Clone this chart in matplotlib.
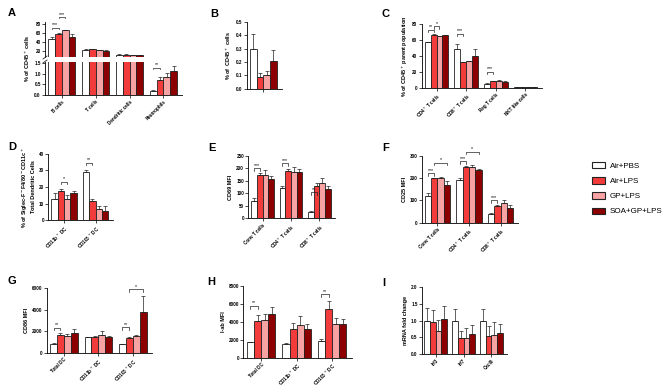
import numpy as np
import matplotlib.pyplot as plt
from matplotlib.patches import Patch

plt.rcParams['font.family'] = ['Liberation Sans', 'DejaVu Sans']

W, H = 669, 388

treatments = ['Air+PBS', 'Air+LPS', 'GP+LPS', 'SOA+GP+LPS']
colors = ['#ffffff', '#f23c3c', '#f7a3a3', '#8c0000']

# ---- data (rows = treatment, cols = group) ----
a_groups = ['B cells', 'T cells', 'Dendritic cells', 'Neutrophils']
a_mean = [[47, 23, 12, 0.2], [58, 24, 12, 0.7], [66, 22, 11, 0.85], [51, 21, 11, 1.15]]
a_err = [[5, 2, 0.5, 0.05], [2, 1, 0.5, 0.13], [1, 1, 0.4, 0.18], [7, 1.5, 0.4, 0.2]]

b_groups = ['']
b_mean = [[0.30], [0.09], [0.10], [0.21]]
b_err = [[0.11], [0.03], [0.03], [0.08]]

c_groups = ['CD4$^+$ T cells', 'CD8$^+$ T cells', 'Reg T cells', 'NKT like cells']
c_mean = [[57, 48, 5, 1], [66, 32, 8, 1.2], [65, 33, 9, 1], [66, 40, 7, 1]]
c_err = [[1, 7, 1, 0.2], [2, 0.5, 0.5, 0.2], [0.5, 0.5, 0.5, 0.2], [0.5, 9, 1, 0.2]]

d_groups = ['CD11b$^+$ DC', 'CD103$^+$ DC']
d_mean = [[13, 29], [17.5, 11.5], [13, 6.5], [16.5, 5.5]]
d_err = [[3.5, 1.5], [1, 1], [2, 2], [1, 3]]

e_groups = ['Conv T cells', 'CD4$^+$ T cells', 'CD8$^+$ T cells']
e_mean = [[70, 122, 25], [172, 188, 130], [174, 185, 140], [157, 183, 118]]
e_err = [[10, 5, 3], [8, 10, 12], [20, 20, 20], [10, 12, 12]]

f_groups = ['Conv T cells', 'CD4$^+$ T cells', 'CD8$^+$ T cells']
f_mean = [[118, 193, 40], [198, 250, 75], [198, 250, 88], [167, 235, 68]]
f_err = [[15, 7, 5], [3, 5, 5], [7, 10, 15], [20, 5, 10]]

g_groups = ['Total DC', 'CD11b$^+$ DC', 'CD103$^+$ DC']
g_mean = [[850, 1450, 800], [1650, 1450, 1350], [1550, 1700, 1550], [1900, 1500, 3800]]
g_err = [[50, 80, 50], [200, 150, 150], [250, 300, 150], [350, 100, 1500]]

h_groups = ['Total DC', 'CD11b$^+$ DC', 'CD103$^+$ DC']
h_mean = [[1700, 1550, 1850], [4100, 3150, 5400], [4200, 3600, 3700], [4850, 3200, 3800]]
h_err = [[100, 100, 250], [600, 700, 900], [700, 1000, 700], [800, 500, 500]]

i_groups = ['Irf3', 'Irf7', 'Cxcl9']
i_mean = [[0.98, 1.0, 1.0], [0.95, 0.47, 0.55], [0.70, 0.48, 0.57], [1.05, 0.60, 0.63]]
i_err = [[0.40, 0.36, 0.36], [0.38, 0.22, 0.30], [0.32, 0.30, 0.38], [0.40, 0.27, 0.28]]

fig = plt.figure(figsize=(W / 100, H / 100), dpi=100)

TICK_FS = 3.3
LAB_FS = 4.0


def make_ax(x0, y0, x1, y1):
    return fig.add_axes([x0 / W, 1 - y1 / H, (x1 - x0) / W, (y1 - y0) / H])


def style(ax, bottom=True):
    for s in ['top', 'right']:
        ax.spines[s].set_visible(False)
    ax.spines['left'].set_linewidth(0.6)
    ax.spines['bottom'].set_linewidth(0.6)
    if not bottom:
        ax.spines['bottom'].set_visible(False)
    ax.tick_params(axis='both', labelsize=TICK_FS, width=0.5, length=2, pad=1)


def draw_bars(ax, groups, mean, err, w=0.2):
    x = np.arange(len(groups))
    for k in range(4):
        pos = x + (k - 1.5) * w
        ax.bar(pos, mean[k], w, color=colors[k], edgecolor='#222222', linewidth=0.6, zorder=2)
        ax.errorbar(pos, mean[k], yerr=[np.zeros(len(groups)), err[k]], fmt='none',
                    ecolor='#222222', elinewidth=0.5, capsize=1.2, capthick=0.5, zorder=3)
    ax.set_xlim(-0.5, len(groups) - 0.45)
    return x


def bracket(ax, g, i, j, y, label, w=0.2):
    x1 = g + (i - 1.5) * w
    x2 = g + (j - 1.5) * w
    lo, hi = ax.get_ylim()
    d = 0.04 * (hi - lo)
    ax.plot([x1, x1, x2, x2], [y - d, y, y, y - d], color='#222222', lw=0.5, clip_on=False, zorder=4)
    ax.text((x1 + x2) / 2, y + 0.005 * (hi - lo), label, ha='center', va='bottom', fontsize=3.8, clip_on=False)


def xlabels(ax, x, groups):
    ax.set_xticks(x)
    ax.set_xticklabels(groups, rotation=45, ha='right', rotation_mode='anchor', fontsize=TICK_FS, fontweight='bold')


def ylab(ax, text):
    ax.set_ylabel(text, fontsize=LAB_FS, fontweight='bold', labelpad=2)


def simple_panel(rect, groups, mean, err, ylim, yticks, fmt, label, brs, show_x=True):
    ax = make_ax(*rect)
    style(ax)
    x = draw_bars(ax, groups, mean, err)
    ax.set_ylim(*ylim)
    ax.set_yticks(yticks)
    ax.set_yticklabels([fmt.format(t) for t in yticks], fontweight='bold')
    if show_x:
        xlabels(ax, x, groups)
    else:
        ax.set_xticks(x)
        ax.set_xticklabels([])
    ylab(ax, label)
    for g, i, j, y, s in brs:
        bracket(ax, g, i, j, y, s)
    return ax


# ---- A: broken axis ----
ax_top = make_ax(45, 22, 182, 57)
ax_bot = make_ax(45, 62, 182, 95)
style(ax_top, bottom=False)
style(ax_bot)
draw_bars(ax_top, a_groups, a_mean, a_err)
xa = draw_bars(ax_bot, a_groups, a_mean, a_err)
ax_top.set_ylim(6.6, 84.4)
ax_top.set_yticks([20, 40, 60, 80])
ax_top.set_yticklabels(['20', '40', '60', '80'], fontweight='bold')
ax_top.set_xticks([])
ax_bot.set_ylim(0, 1.55)
ax_bot.set_yticks([0, 0.5, 1.0, 1.5])
ax_bot.set_yticklabels(['0.0', '0.5', '1.0', '1.5'], fontweight='bold')
xlabels(ax_bot, xa, a_groups)
bracket(ax_top, 0, 0, 1, 72, '***')
bracket(ax_top, 0, 1, 2, 96, '***')
bracket(ax_bot, 3, 0, 1, 1.29, '**')
for yb in [57.5, 61.5]:
    fig.add_artist(plt.Line2D([43 / W, 47 / W], [1 - (yb + 1.5) / H, 1 - (yb - 1.5) / H],
                              color='#222222', lw=0.6))
fig.text(28 / W, 1 - 58 / H, '% of CD45$^+$ cells', rotation=90, ha='center', va='center',
         fontsize=LAB_FS, fontweight='bold')

# ---- B ----
simple_panel((246.7, 22, 281.7, 88.7), b_groups, b_mean, b_err, (0, 0.5),
             [0, 0.1, 0.2, 0.3, 0.4, 0.5], '{:.1f}', '% of  CD45$^+$ cells', [], show_x=False)

# ---- C ----
simple_panel((421.7, 24, 541.7, 87.7), c_groups, c_mean, c_err, (0, 80), [0, 20, 40, 60, 80], '{:d}',
             '% of CD45$^+$ parent population',
             [(0, 0, 1, 73, '**'), (0, 1, 2, 77, '*'), (1, 0, 1, 68, '***'), (2, 0, 1, 20, '***')])

# ---- D ----
simple_panel((48.3, 154, 113, 220), d_groups, d_mean, d_err, (0, 40), [0, 10, 20, 30, 40], '{:d}',
             '% of Siglec-F$^-$F4/80$^-$CD11c$^+$\nTotal Dendritic Cells',
             [(0, 1, 2, 23.2, '*'), (1, 0, 1, 34.7, '**')])

# ---- E ----
simple_panel((248.3, 155.7, 335, 218.3), e_groups, e_mean, e_err, (0, 250), [0, 50, 100, 150, 200, 250], '{:d}',
             'CD69 MFI',
             [(0, 0, 1, 200, '***'), (1, 0, 1, 220, '***'), (2, 0, 1, 105, '**')])

# ---- F ----
simple_panel((421.7, 155.7, 518, 222.7), f_groups, f_mean, f_err, (0, 300), [0, 100, 200, 300], '{:d}',
             'CD25 MFI',
             [(0, 0, 1, 221, '***'), (0, 1, 3, 269, '*'), (1, 0, 1, 276, '***'), (1, 1, 3, 318, '*'),
              (2, 0, 1, 102, '***')])

# ---- G ----
simple_panel((46.7, 288.3, 151.7, 353), g_groups, g_mean, g_err, (0, 6000), [0, 2000, 4000, 6000], '{:d}',
             'CD86 MFI',
             [(0, 0, 1, 2350, '**'), (2, 0, 1, 2380, '**'), (2, 1, 3, 5935, '*')])

# ---- H ----
simple_panel((243.3, 285.7, 351.7, 357.7), h_groups, h_mean, h_err, (0, 8000), [0, 2000, 4000, 6000, 8000], '{:d}',
             'I-ab MFI',
             [(0, 0, 1, 5780, '**'), (2, 0, 1, 7040, '**')])

# ---- I ----
simple_panel((421.7, 287.3, 506.7, 354), i_groups, i_mean, i_err, (0, 2.0), [0, 0.5, 1.0, 1.5, 2.0], '{:.1f}',
             'mRNA fold change', [])

# panel letters
for letter, (px, py) in zip('ABCDEFGHI', [(8, 13), (210, 14), (382, 14), (8, 147), (208, 148),
                                          (382, 148), (8, 281), (207, 282), (382, 283)]):
    fig.text(px / W, 1 - py / H, letter, fontsize=8, fontweight='bold', ha='left', va='center')

# legend
handles = [Patch(facecolor=c, edgecolor='#222222', linewidth=0.8) for c in colors]
fig.legend(handles, treatments, loc='upper left', bbox_to_anchor=(589 / W, 1 - 159 / H),
           frameon=False, fontsize=5.8, handlelength=1.6, handleheight=0.8, labelspacing=0.9,
           handletextpad=0.6, borderaxespad=0)

fig.savefig('out.png', dpi=100)
